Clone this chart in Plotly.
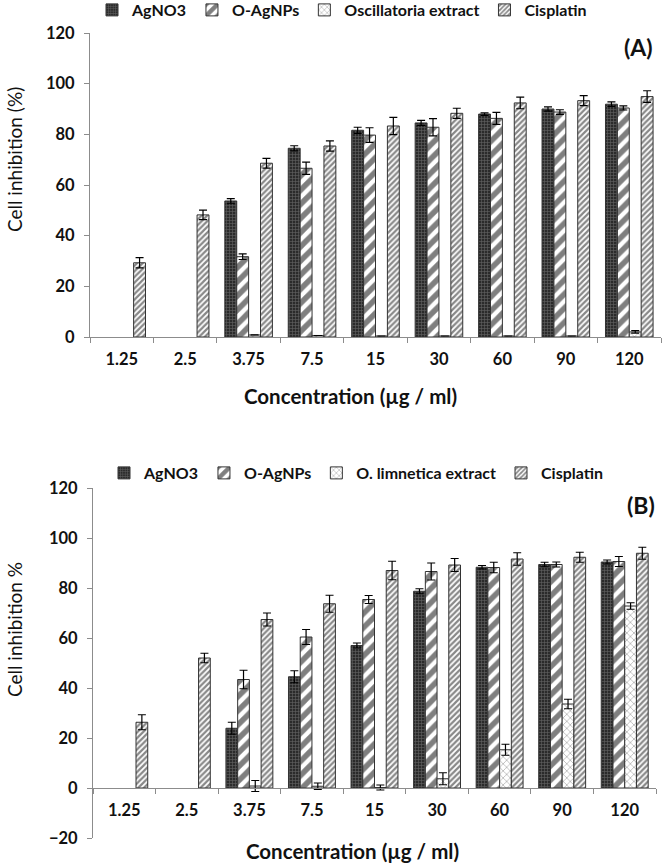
import plotly.graph_objects as go

# ============================================
# DATA
# ============================================
conc = ["1.25", "2.5", "3.75", "7.5", "15", "30", "60", "90", "120"]

# panel A
agno3_a = [None, None, 53.7, 74.5, 81.6, 84.5, 88.0, 90.0, 91.9]
agno3_a_err = [None, None, 0.9, 1.0, 1.2, 1.0, 0.5, 0.8, 0.9]
oagnp_a = [None, None, 31.7, 66.6, 79.7, 82.8, 86.3, 88.8, 90.4]
oagnp_a_err = [None, None, 1.1, 2.4, 2.9, 3.4, 2.4, 0.9, 0.8]
extract_a = [None, None, 0.8, 0.6, 0.4, 0.4, 0.4, 0.4, 2.0]
extract_a_err = [None, None, 0, 0, 0, 0, 0, 0, 0.5]
cispl_a = [29.3, 48.2, 68.6, 75.4, 83.3, 88.3, 92.4, 93.3, 94.9]
cispl_a_err = [2.0, 1.9, 1.9, 2.0, 3.4, 2.0, 2.3, 2.0, 2.3]

# panel B
agno3_b = [None, None, 23.9, 44.5, 57.0, 78.7, 88.3, 89.4, 90.4]
agno3_b_err = [None, None, 2.4, 2.4, 1.0, 1.0, 0.7, 0.9, 0.8]
oagnp_b = [None, None, 43.4, 60.4, 75.4, 86.6, 88.2, 89.4, 90.6]
oagnp_b_err = [None, None, 3.7, 3.0, 1.6, 3.4, 2.1, 1.0, 2.0]
extract_b = [None, None, 0.8, 0.7, 0.2, 3.7, 15.3, 33.6, 72.8]
extract_b_err = [None, None, 2.2, 1.3, 1.0, 2.4, 2.2, 1.9, 1.3]
cispl_b = [26.3, 52.0, 67.4, 73.7, 87.0, 89.2, 91.6, 92.3, 93.9]
cispl_b_err = [3.0, 1.9, 2.6, 3.4, 3.7, 2.6, 2.5, 2.0, 2.4]

# ============================================
# STYLES
# ============================================
W, H = 663, 863
FONT = 'Lato'
TXT = '#111111'
AXC = '#8c8c8c'

styles = {
    'agno3':   dict(shape='+', fgcolor='#9a9a9a', bgcolor='#2b2b2b', size=3, solidity=0.35),
    'oagnp':   dict(shape='/', fgcolor='#000000', bgcolor='#ffffff', size=10, solidity=0.55),
    'extract': dict(shape='x', fgcolor='#6e6e6e', bgcolor='#ffffff', size=5, solidity=0.3),
    'cispl':   dict(shape='/', fgcolor='#111111', bgcolor='#ffffff', size=4, solidity=0.55),
}


def px_x(p):
    return p / W


def px_y(p):
    return 1 - p / H


def bar(name, vals, errs, key, xa, ya, leg):
    return go.Bar(
        x=conc, y=vals, name=name,
        xaxis=xa, yaxis=ya, legend=leg,
        marker=dict(color=styles[key]['bgcolor'], pattern=styles[key],
                    line=dict(color='#333333', width=1)),
        error_y=dict(type='data', array=errs, visible=True,
                     color='#000000', thickness=1.2, width=4),
    )


fig = go.Figure()

fig.add_trace(bar('AgNO3', agno3_a, agno3_a_err, 'agno3', 'x', 'y', 'legend'))
fig.add_trace(bar('O-AgNPs', oagnp_a, oagnp_a_err, 'oagnp', 'x', 'y', 'legend'))
fig.add_trace(bar('Oscillatoria extract', extract_a, extract_a_err, 'extract', 'x', 'y', 'legend'))
fig.add_trace(bar('Cisplatin', cispl_a, cispl_a_err, 'cispl', 'x', 'y', 'legend'))

fig.add_trace(bar('AgNO3', agno3_b, agno3_b_err, 'agno3', 'x2', 'y2', 'legend2'))
fig.add_trace(bar('O-AgNPs', oagnp_b, oagnp_b_err, 'oagnp', 'x2', 'y2', 'legend2'))
fig.add_trace(bar('O. limnetica extract', extract_b, extract_b_err, 'extract', 'x2', 'y2', 'legend2'))
fig.add_trace(bar('Cisplatin', cispl_b, cispl_b_err, 'cispl', 'x2', 'y2', 'legend2'))

# ============================================
# AXES
# ============================================
tickfont = dict(family=FONT, size=16.5, color=TXT, weight='bold')

xcommon = dict(showline=True, linecolor=AXC, linewidth=1, ticks='outside',
               tickson='boundaries', ticklen=5, tickcolor=AXC, showgrid=False,
               zeroline=False, tickfont=tickfont, ticklabelstandoff=7,
               fixedrange=True)
ycommon = dict(showline=True, linecolor=AXC, linewidth=1, ticks='outside',
               ticklen=5, tickcolor=AXC, showgrid=False, zeroline=False,
               dtick=20, tickfont=tickfont, ticklabelstandoff=6)

ya_dom = [px_y(337), px_y(33)]
yb_dom = [px_y(838), px_y(488)]
yb_range = [-20, 120]
# x axis of panel B crosses at y = 0
xb_pos = yb_dom[0] + (0 - yb_range[0]) / (yb_range[1] - yb_range[0]) * (yb_dom[1] - yb_dom[0])

fig.update_layout(
    xaxis=dict(domain=[px_x(90), px_x(661)], anchor='y', **xcommon),
    yaxis=dict(domain=ya_dom, range=[0, 120], anchor='x', **ycommon),
    xaxis2=dict(domain=[px_x(93), px_x(656)], anchor='free', position=xb_pos, **xcommon),
    yaxis2=dict(domain=yb_dom, range=yb_range, anchor='x2', **ycommon),
)

# ============================================
# LABELS
# ============================================
notes = [
    ('Cell inhibition (%)', 14, 160, -90, 19, 'normal'),
    ('Cell inhibition %', 14, 630, -90, 19, 'normal'),
    ('Concentration (µg / ml)', 350, 396, 0, 20.5, 'bold'),
    ('Concentration (µg / ml)', 352, 851, 0, 20.5, 'bold'),
    ('(A)', 638, 47, 0, 23, 'bold'),
    ('(B)', 641, 505, 0, 23, 'bold'),
]
for txt, x, y, ang, size, weight in notes:
    fig.add_annotation(
        x=px_x(x), y=px_y(y), xref='paper', yref='paper',
        text=txt, showarrow=False, textangle=ang,
        xanchor='center', yanchor='middle',
        font=dict(family=FONT, size=size, color=TXT, weight=weight),
    )

legfont = dict(family=FONT, size=16, color=TXT, weight='bold')

fig.update_layout(
    barmode='group',
    bargap=0.25,
    bargroupgap=0,
    width=W, height=H,
    margin=dict(l=0, r=0, t=0, b=0, autoexpand=False),
    paper_bgcolor='white',
    plot_bgcolor='white',
    legend=dict(orientation='h', x=px_x(92), y=px_y(10), xanchor='left',
                yanchor='middle', font=legfont, itemwidth=30,
                bgcolor='rgba(0,0,0,0)'),
    legend2=dict(orientation='h', x=px_x(104), y=px_y(473), xanchor='left',
                 yanchor='middle', font=legfont, itemwidth=30,
                 bgcolor='rgba(0,0,0,0)'),
)

fig.write_html(
    "out.html",
    config={'displayModeBar': False},
    post_script="document.body.style.margin='0';document.body.style.overflow='hidden';",
)
